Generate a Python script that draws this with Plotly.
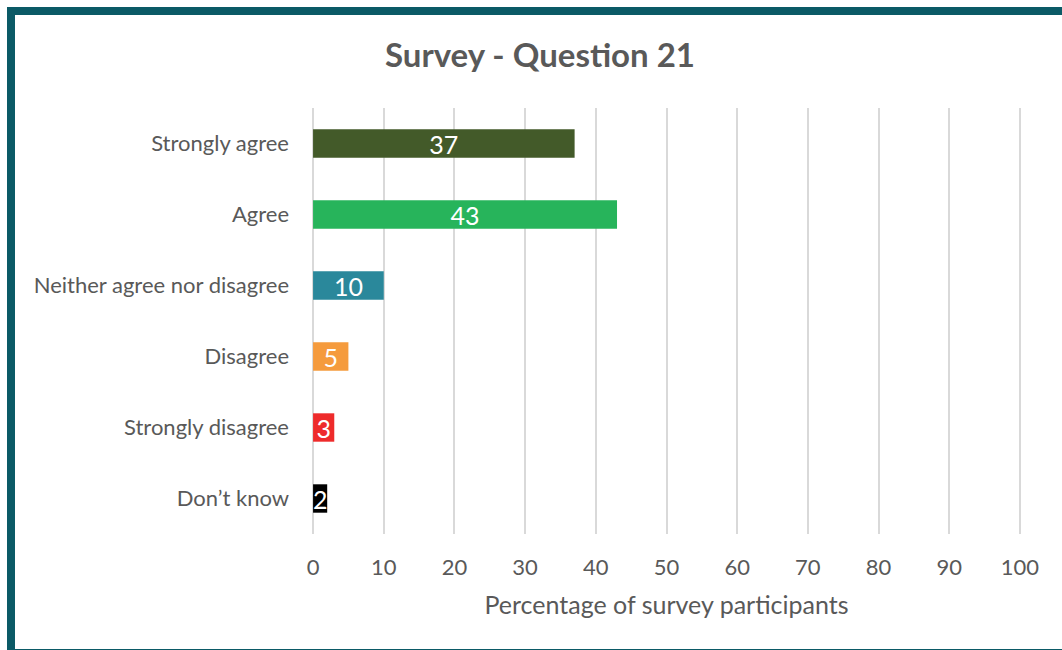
import plotly.graph_objects as go

categories = ["Strongly agree", "Agree", "Neither agree nor disagree", "Disagree", "Strongly disagree", "Don\u2019t know"]
values = [37, 43, 10, 5, 3, 2]
colors = ["#435A29", "#27B45B", "#2A889B", "#F59B3D", "#EE2B2B", "#000000"]
x_ticks = [0, 10, 20, 30, 40, 50, 60, 70, 80, 90, 100]

FONT = "Lato"
W, H = 1062, 650
ml, mr, mt, mb = 312, 41, 108, 116
pw, ph = W - ml - mr, H - mt - mb

def px_x(p):
    return (p - ml) / pw

def px_y(p):
    return 1 - (p - mt) / ph

fig = go.Figure(go.Bar(
    x=values, y=categories, orientation="h",
    marker=dict(color=colors, line=dict(width=0)),
    text=[str(v) for v in values], textposition="inside", textangle=0,
    insidetextanchor="middle", constraintext="none",
    textfont=dict(family=FONT, size=25, color="white"),
    hoverinfo="skip",
))

fig.update_layout(
    width=W, height=H,
    margin=dict(l=ml, r=mr, t=mt, b=mb),
    paper_bgcolor="white", plot_bgcolor="white",
    bargap=0.6,
    showlegend=False,
    title=dict(text="<b>Survey - Question 21</b>", x=540 / W, xanchor="center",
               y=1 - 55 / H, yanchor="middle",
               font=dict(family=FONT, size=33, color="#595959")),
    font=dict(family=FONT, color="#595959"),
    xaxis=dict(range=[-0.15, 100.15], tickvals=x_ticks, showgrid=True, gridcolor="#D9D9D9",
               gridwidth=1.5, zeroline=True, zerolinecolor="#D9D9D9", zerolinewidth=1.5,
               showline=False,
               tickfont=dict(family=FONT, size=22, color="#595959"),
               ticklabelstandoff=18,
               title=dict(text="Percentage of survey participants", standoff=17,
                          font=dict(family=FONT, size=25, color="#595959"))),
    yaxis=dict(categoryorder="array", categoryarray=categories, autorange="reversed",
               showgrid=False, zeroline=False, showline=False,
               ticklabelstandoff=22,
               tickfont=dict(family=FONT, size=22, color="#595959")),
    shapes=[dict(type="rect", xref="paper", yref="paper",
                 x0=px_x(11), x1=px_x(1075), y0=px_y(653), y1=px_y(11),
                 line=dict(color="#0B5A66", width=8), layer="above")],
)

fig.write_html("out.html", config={"displayModeBar": False},
               post_script="document.body.style.margin='0';document.body.style.overflow='hidden';")
